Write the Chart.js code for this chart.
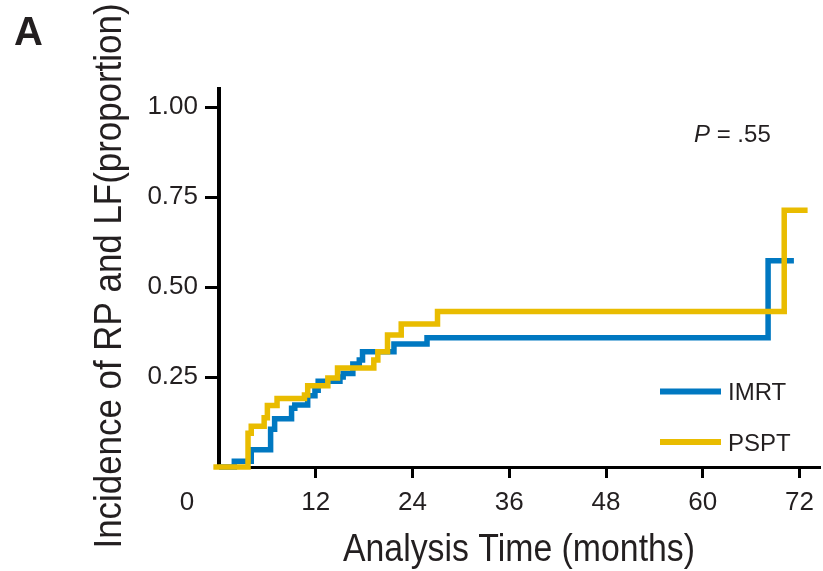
<!DOCTYPE html>
<html>
<head>
<meta charset="utf-8">
<script src="https://cdn.jsdelivr.net/npm/chart.js@4"></script>
<style>
  html, body { margin: 0; padding: 0; background: #fff; }
</style>
</head>
<body>
<canvas id="chart" width="823" height="571"></canvas>
<script>
// tick values
const xTicks = [0, 12, 24, 36, 48, 60, 72];
const yTicks = [0, 0.25, 0.5, 0.75, 1.0];

// cumulative incidence (months, proportion)
const imrtTime = [0, 1.9, 4.0, 6.4, 6.9, 9.0, 9.4, 11.0, 11.9, 12.3, 15.0, 15.4, 16.6, 17.4, 17.8, 21.7, 25.8, 68.1, 71.3];
const imrtRisk = [0, 0.016, 0.048, 0.105, 0.134, 0.163, 0.172, 0.198, 0.213, 0.238, 0.25, 0.26, 0.286, 0.297, 0.32, 0.342, 0.359, 0.573, 0.573];

const psptTime = [-0.7, 3.6, 4.0, 5.6, 6.0, 7.2, 10.6, 11.0, 13.5, 14.7, 19.2, 19.7, 20.9, 22.6, 27.1, 70.1, 73.0];
const psptRisk = [0, 0.094, 0.113, 0.137, 0.171, 0.19, 0.2, 0.226, 0.247, 0.275, 0.297, 0.32, 0.367, 0.397, 0.432, 0.713, 0.713];

const seriesNames = ["IMRT", "PSPT"];
const pValue = ".55";

const blue = "#0078c1";
const gold = "#e9bc00";
const ink = "#231f20";
const fontFam = '"Liberation Sans", Arial, Helvetica, sans-serif';

const toPoints = (xs, ys) => xs.map((x, i) => ({ x: x, y: ys[i] }));

const hideZero = (c) => (c.tick && c.tick.value === 0 ? "rgba(0,0,0,0)" : "#000");

const extras = {
  id: "extras",
  afterDraw(chart) {
    const ctx = chart.ctx;
    const xs = chart.scales.x;
    const area = chart.chartArea;
    ctx.save();
    ctx.fillStyle = ink;

    // panel letter
    ctx.font = "bold 40px " + fontFam;
    ctx.textAlign = "left";
    ctx.textBaseline = "alphabetic";
    ctx.fillText("A", 14, 45);

    // origin label, sits left of the y axis
    ctx.font = "26px " + fontFam;
    ctx.textAlign = "center";
    ctx.textBaseline = "middle";
    ctx.fillText("0", xs.getPixelForValue(0) - 32, xs.top + 11 + 9 + 15.6);

    // axis titles
    ctx.font = "38px " + fontFam;
    ctx.textAlign = "center";
    ctx.textBaseline = "alphabetic";
    ctx.fillText("Analysis Time (months)", 519, 561, 352);

    ctx.save();
    ctx.translate(121, 276);
    ctx.rotate(-Math.PI / 2);
    ctx.fillText("Incidence of RP and LF(proportion)", 0, 0, 545);
    ctx.restore();

    // p value
    ctx.textAlign = "left";
    ctx.font = "italic 24px " + fontFam;
    ctx.fillText("P", 694, 142);
    const pw = ctx.measureText("P").width;
    ctx.font = "24px " + fontFam;
    ctx.fillText(" = " + pValue, 694 + pw, 142);

    // legend
    const rows = [391.5, 442];
    chart.data.datasets.forEach((ds, i) => {
      ctx.fillStyle = ds.borderColor;
      ctx.fillRect(660, rows[i] - 3, 61, 6);
      ctx.fillStyle = ink;
      ctx.font = "24px " + fontFam;
      ctx.textBaseline = "middle";
      ctx.fillText(ds.label, 728, rows[i] + 2);
    });
    ctx.restore();
  }
};

new Chart(document.getElementById("chart"), {
  type: "line",
  data: {
    datasets: [
      {
        label: seriesNames[0],
        data: toPoints(imrtTime, imrtRisk),
        borderColor: blue,
        borderWidth: 5.5,
        stepped: "before",
        pointRadius: 0,
        fill: false,
        clip: false,
        borderJoinStyle: "miter",
        order: 2,
      },
      {
        label: seriesNames[1],
        data: toPoints(psptTime, psptRisk),
        borderColor: gold,
        borderWidth: 5.5,
        stepped: "before",
        pointRadius: 0,
        fill: false,
        clip: false,
        borderJoinStyle: "miter",
        order: 1,
      },
    ],
  },
  options: {
    responsive: false,
    animation: false,
    devicePixelRatio: 1,
    layout: { padding: { top: 89, left: 0, right: 0, bottom: 0 } },
    plugins: {
      legend: { display: false },
      tooltip: { enabled: false },
    },
    scales: {
      x: {
        type: "linear",
        min: 0,
        max: 74.5,
        afterBuildTicks: (s) => { s.ticks = xTicks.map((v) => ({ value: v })); },
        afterFit: (s) => { s.height = 104; },
        ticks: {
          color: ink,
          font: { family: fontFam, size: 26 },
          padding: 9,
          maxRotation: 0,
          autoSkip: false,
          callback: (v) => (v === 0 ? "" : v),
        },
        grid: { drawOnChartArea: false, tickLength: 11, lineWidth: 3, color: hideZero },
        border: { color: "#000", width: 3 },
      },
      y: {
        min: 0,
        max: 1.05,
        afterBuildTicks: (s) => { s.ticks = yTicks.map((v) => ({ value: v })); },
        afterFit: (s) => { s.width = 219; },
        ticks: {
          color: ink,
          font: { family: fontFam, size: 26 },
          padding: 7,
          callback: (v) => (v === 0 ? "" : v.toFixed(2)),
        },
        grid: { drawOnChartArea: false, tickLength: 14, lineWidth: 3, color: hideZero },
        border: { color: "#000", width: 4 },
      },
    },
  },
  plugins: [extras],
});
</script>
</body>
</html>
